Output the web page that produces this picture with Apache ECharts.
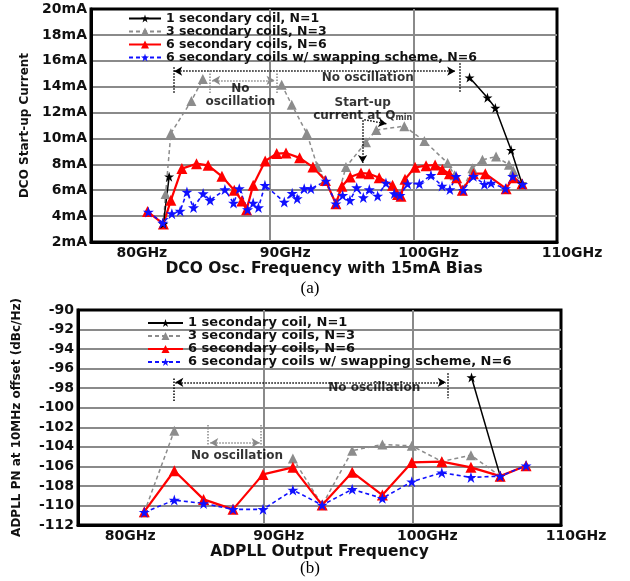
<!DOCTYPE html>
<html lang="en">
<head>
<meta charset="UTF-8">
<title>DCO start-up current / ADPLL PN</title>
<script src="https://cdn.jsdelivr.net/npm/echarts@6.0.0/dist/echarts.min.js"></script>
<style>
    html, body { margin: 0; padding: 0; background: #fff; }
    #main { width: 630px; height: 581px; }
</style>
</head>
<body>
<div id="main"></div>
<script>
    // legend names and x tick values (GHz)
    var names = ['1 secondary coil, N=1', '3 secondary coils, N=3', '6 secondary coils, N=6',
        '6 secondary coils w/ swapping scheme, N=6'];
    var freqTicks = [80, 90, 100, 110];

    // (a) DCO start-up current, [GHz, mA], null = no oscillation
    var aN1 = [[82.55, 3.4], [82.95, 7.05], null, [103.9, 14.7], [105.15, 13.15], [105.7, 12.35],
        [106.8, 9.1], [107.56, 6.5]];
    var aN3 = [[82.55, 3.4], [82.7, 5.7], [83.07, 10.4], [84.5, 12.9], [85.3, 14.6], null,
        [90.8, 14.15], [91.5, 12.6], [92.55, 10.4], [93.3, 7.8], [93.8, 6.75], [94.58, 4.96],
        [95.28, 7.8], [96.68, 9.7], [97.4, 10.65], [99.35, 10.95], [100.75, 9.8], [102.37, 8.1],
        [102.85, 7.15], [103.4, 6.0], [104.1, 7.7], [104.8, 8.35], [105.75, 8.6], [106.65, 7.97],
        [106.95, 7.5], [107.56, 6.5]];
    var aN6 = [[81.44, 4.35], [82.55, 3.4], [83.07, 5.22], [83.84, 7.67], [84.86, 8.05], [85.67, 7.92],
        [86.63, 7.07], [87.49, 6.0], [88.02, 5.17], [88.35, 4.5], [88.81, 6.38], [89.65, 8.26],
        [90.45, 8.83], [91.1, 8.87], [92.05, 8.5], [92.98, 7.79], [93.85, 6.76], [94.58, 4.96],
        [95.0, 6.3], [95.58, 7.02], [96.33, 7.33], [96.9, 7.28], [97.6, 6.97], [98.53, 6.38],
        [98.88, 5.66], [99.12, 5.53], [99.4, 6.85], [100.1, 7.77], [100.87, 7.9], [101.5, 7.95],
        [102.0, 7.6], [102.5, 7.28], [103.0, 6.97], [103.4, 6.0], [104.17, 7.28], [105.0, 7.28],
        [106.45, 6.12], [106.96, 6.97], [107.56, 6.5]];
    var aSwap = [[81.5, 4.32], [82.5, 3.47], [83.14, 4.19], [83.72, 4.39], [84.19, 5.86], [84.65, 4.66],
        [85.32, 5.74], [85.81, 5.22], [86.84, 6.05], [87.44, 5.01], [87.84, 6.12], [88.42, 4.5],
        [88.81, 5.01], [89.18, 4.66], [89.63, 6.38], [90.98, 5.09], [91.53, 5.76], [91.88, 5.35],
        [92.37, 6.12], [92.84, 6.12], [93.89, 6.71], [94.58, 4.96], [95.05, 5.6], [95.56, 5.22],
        [96.03, 6.2], [96.49, 5.43], [96.91, 6.05], [97.49, 5.55], [98.07, 6.56], [98.65, 5.74],
        [99.05, 5.6], [99.58, 6.5], [100.4, 6.5], [101.21, 7.15], [101.98, 6.33], [102.53, 6.05],
        [102.96, 7.07], [103.47, 6.0], [104.17, 7.07], [104.94, 6.46], [105.4, 6.56], [106.4, 6.12],
        [106.91, 7.07], [107.6, 6.46]];

    // (b) ADPLL phase noise at 10MHz offset, [GHz, dBc/Hz]
    var bN1 = [[103.98, -96.9], [105.91, -107.0]];
    var bN3 = [[81.96, -110.7], [83.98, -102.35], null, [91.96, -105.2], [93.93, -109.96],
        [95.95, -104.4], [97.98, -103.75], [99.96, -103.9], [101.98, -105.5], [103.94, -104.85],
        [105.91, -107.0], [107.65, -105.93]];
    var bN6 = [[81.96, -110.64], [83.98, -106.45], [85.95, -109.38], [87.93, -110.4], [89.95, -106.82],
        [91.96, -106.1], [93.93, -109.96], [95.95, -106.6], [97.98, -108.94], [99.96, -105.6],
        [101.98, -105.52], [103.94, -106.1], [105.91, -107.0], [107.65, -105.93]];
    var bSwap = [[81.96, -110.7], [83.98, -109.45], [85.95, -109.8], [87.93, -110.4], [89.95, -110.4],
        [91.96, -108.42], [93.93, -109.96], [95.95, -108.35], [97.98, -109.27], [99.96, -107.57],
        [101.98, -106.65], [103.94, -107.13], [105.91, -107.0], [107.65, -105.93]];

    var FONT = 'DejaVu Sans';
    var STAR = 'path://M50,0 L61.8,35.1 L98.9,35.1 L68.9,56.9 L80.3,91.9 L50,70.2 L19.7,91.9 L31.1,56.9 L1.1,35.1 L38.2,35.1 Z';
    var looks = [
        {color: '#000000', type: 'solid', width: 1.5, symbol: STAR, size: 10},
        {color: '#8c8c8c', type: [4, 3], width: 1.5, symbol: 'triangle', size: 10},
        {color: '#ff0000', type: 'solid', width: 2.2, symbol: 'triangle', size: 11},
        {color: '#1010ff', type: [4, 3], width: 1.6, symbol: STAR, size: 11}
    ];

    function fixGaps(arr) {
        return arr.map(function (p) { return p ? p : ['-', '-']; });
    }

    function lineSeries(k, data, g) {
        var s = looks[k];
        return {
            name: names[k], type: 'line', xAxisIndex: g, yAxisIndex: g,
            data: fixGaps(data), connectNulls: false,
            symbol: s.symbol, symbolSize: s.size, showAllSymbol: true,
            itemStyle: {color: s.color},
            lineStyle: {color: s.color, width: s.width, type: s.type}
        };
    }

    // dotted arrows for the "No oscillation" notes
    function arrow(x1, y1, x2, y2, a1, a2) {
        return [{coord: [x1, y1], symbol: a1 ? 'arrow' : 'none'},
                {coord: [x2, y2], symbol: a2 ? 'arrow' : 'none'}];
    }

    function notes(g, color, texts, lines) {
        return {
            type: 'scatter', xAxisIndex: g, yAxisIndex: g, silent: true, z: 5,
            symbolSize: 0, itemStyle: {color: 'rgba(0,0,0,0)'},
            label: {
                show: true, position: 'inside', color: '#000', fontFamily: FONT,
                fontWeight: 'bold', fontSize: 12, lineHeight: 13,
                formatter: function (p) { return p.data.t; },
                rich: {
                    q: {fontFamily: FONT, fontWeight: 'bold', fontSize: 12, color: '#000'},
                    s: {fontFamily: FONT, fontWeight: 'bold', fontSize: 8, color: '#000', verticalAlign: 'bottom', lineHeight: 8}
                }
            },
            data: texts,
            markLine: {
                silent: true, symbol: 'none', symbolSize: [7, 8], animation: false,
                label: {show: false},
                lineStyle: {type: 'dotted', color: color, width: 1.5},
                data: lines
            }
        };
    }

    function xAxisFor(g, title, gap) {
        return {
            type: 'value', gridIndex: g, min: 77.5, max: 110,
            name: title, nameLocation: 'middle', nameGap: gap,
            nameTextStyle: {fontFamily: FONT, fontWeight: 'bold', fontSize: 15.5, color: '#111'},
            axisLine: {show: true, onZero: false, lineStyle: {color: '#000', width: 3}},
            axisTick: {show: false, customValues: freqTicks},
            axisLabel: {
                customValues: freqTicks, margin: 4, formatter: '{value}GHz',
                fontFamily: FONT, fontWeight: 'bold', fontSize: 14, color: '#111',
                padding: [0, 0, 0, 30]
            },
            splitLine: {show: true, showMinLine: false, showMaxLine: false,
                lineStyle: {color: '#8a8a8a', width: 2}}
        };
    }

    function yAxisFor(g, title, min, max, unit, gap, nameSize) {
        return {
            type: 'value', gridIndex: g, min: min, max: max, interval: 2,
            name: title, nameLocation: 'middle', nameGap: gap,
            nameTextStyle: {fontFamily: FONT, fontWeight: 'bold', fontSize: nameSize, color: '#111'},
            axisLine: {show: true, lineStyle: {color: '#000', width: 3}},
            axisTick: {show: false},
            axisLabel: {
                margin: 4, formatter: '{value}' + unit,
                fontFamily: FONT, fontWeight: 'bold', fontSize: 14, color: '#111'
            },
            splitLine: {show: true, showMinLine: false, showMaxLine: false,
                lineStyle: {color: '#8a8a8a', width: 2}}
        };
    }

    function legendFor(left, top, fs, lh, w) {
        return {
            data: names, orient: 'vertical', left: left, top: top,
            itemWidth: w, itemHeight: 10, itemGap: 0, padding: 0,
            selectedMode: false,
            textStyle: {fontFamily: FONT, fontWeight: 'bold', fontSize: fs, lineHeight: lh, color: '#111'}
        };
    }

    var chart = echarts.init(document.getElementById('main'), null, {renderer: 'canvas'});

    var option = {
        backgroundColor: '#fff',
        animation: false,
        grid: [
            {left: 91, right: 73, top: 9, height: 233, show: true, borderColor: '#000', borderWidth: 3},
            {left: 78, right: 69, top: 310, bottom: 56, show: true, borderColor: '#000', borderWidth: 3}
        ],
        legend: [legendFor(128, 12, 12.5, 13, 32), legendFor(147, 316.5, 13, 12.6, 35)],
        xAxis: [
            xAxisFor(0, 'DCO Osc. Frequency with 15mA Bias', 18),
            xAxisFor(1, 'ADPLL Output Frequency', 15)
        ],
        yAxis: [
            yAxisFor(0, 'DCO Start-up Current', 2, 20, 'mA', 58, 12),
            yAxisFor(1, 'ADPLL PN at 10MHz offset (dBc/Hz)', -112, -90, '', 55, 12)
        ],
        graphic: [
            {type: 'text', x: 310, y: 289, style: {text: '(a)', font: '17px "Liberation Serif"', fill: '#000', textAlign: 'center', textVerticalAlign: 'middle'}},
            {type: 'text', x: 310, y: 569, style: {text: '(b)', font: '17px "Liberation Serif"', fill: '#000', textAlign: 'center', textVerticalAlign: 'middle'}}
        ],
        series: [
            lineSeries(1, aN3, 0),
            lineSeries(2, aN6, 0),
            lineSeries(0, aN1, 0),
            lineSeries(3, aSwap, 0),
            lineSeries(1, bN3, 1),
            lineSeries(2, bN6, 1),
            lineSeries(0, bN1, 1),
            lineSeries(3, bSwap, 1),
            notes(0, '#000', [
                {value: [96.8, 14.7], t: 'No oscillation'},
                {value: [87.92, 13.33], t: 'No\noscillation'},
                {value: [96.45, 12.25], t: 'Start-up\ncurrent at {q|Q}{s|min}'}
            ], [
                arrow(83.3, 15.2, 102.9, 15.2, true, true),
                arrow(83.25, 15.5, 83.25, 13.46, false, false),
                arrow(103.2, 15.8, 103.2, 13.6, false, false),
                arrow(96.44, 11.4, 96.44, 8.1, false, true),
                arrow(96.56, 11.44, 98.1, 11.14, false, true)
            ]),
            notes(0, '#888', [], [
                arrow(85.95, 14.49, 90.3, 14.49, true, true),
                arrow(85.81, 15.24, 85.81, 13.46, false, false),
                arrow(90.44, 15.24, 90.44, 13.46, false, false)
            ]),
            notes(1, '#000', [
                {value: [97.43, -98.0], t: 'No oscillation'},
                {value: [88.2, -104.94], t: 'No oscillation'}
            ], [
                arrow(84.05, -97.4, 102.25, -97.4, true, true),
                arrow(83.93, -97.0, 83.93, -99.4, false, false),
                arrow(102.36, -96.48, 102.36, -99.04, false, false)
            ]),
            notes(1, '#888', [], [
                arrow(86.4, -103.58, 89.72, -103.58, true, true),
                arrow(86.24, -101.77, 86.24, -103.82, false, false),
                arrow(89.82, -101.77, 89.82, -103.82, false, false)
            ])
        ]
    };

    chart.setOption(option);
</script>
</body>
</html>
